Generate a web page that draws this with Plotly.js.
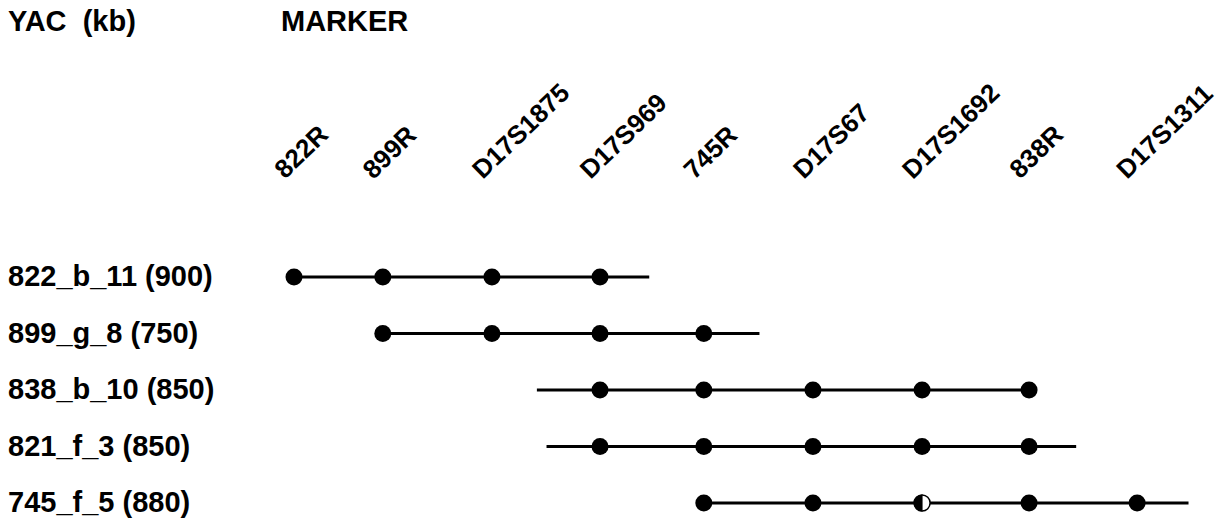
<!DOCTYPE html>
<html>
<head>
<meta charset="utf-8">
<script src="https://cdn.plot.ly/plotly-3.0.1.min.js"></script>
<style>html,body{margin:0;padding:0;background:#fff;}#chart{width:1225px;height:525px;}</style>
</head>
<body>
<div id="chart"></div>
<script>
// ---- data ----
const yacs = ['822_b_11 (900)', '899_g_8 (750)', '838_b_10 (850)', '821_f_3 (850)', '745_f_5 (880)'];
const markers = ['822R', '899R', 'D17S1875', 'D17S969', '745R', 'D17S67', 'D17S1692', '838R', 'D17S1311'];
// relative map position of each marker (marker spacing units)
const markerPos = [0, 0.83, 1.85, 2.86, 3.83, 4.85, 5.87, 6.87, 7.88];
// extent of each YAC on the same scale
const yacStart = [0, 0.83, 2.27, 2.36, 3.83];
const yacEnd = [3.32, 4.35, 6.87, 7.31, 8.36];
// marker content per YAC: 1 = present, 0.5 = partial (half-filled), 0 = absent
const content = [
  [1, 1, 1, 1, 0, 0, 0, 0, 0],
  [0, 1, 1, 1, 1, 0, 0, 0, 0],
  [0, 0, 0, 1, 1, 1, 1, 1, 0],
  [0, 0, 0, 1, 1, 1, 1, 1, 0],
  [0, 0, 0, 0, 1, 1, 0.5, 1, 1]
];
const titleLeft = 'YAC\u00a0\u00a0(kb)';
const titleRight = 'MARKER';

// ---- build ----
const FONT = 'Liberation Sans, Arial, Helvetica, sans-serif';
const traces = [];
yacs.forEach((y, i) => {
  traces.push({
    x: [yacStart[i], yacEnd[i]], y: [i, i], mode: 'lines',
    line: {color: '#000', width: 3}, hoverinfo: 'skip', showlegend: false
  });
});
const shapes = [];
yacs.forEach((y, i) => {
  const fx = [], hx = [];
  content[i].forEach((v, j) => {
    if (v === 1) fx.push(markerPos[j]);
    else if (v === 0.5) hx.push(markerPos[j]);
  });
  traces.push({
    x: fx, y: fx.map(() => i), mode: 'markers',
    marker: {symbol: 'circle', size: 17, color: '#000'},
    name: y, showlegend: false, hoverinfo: 'x+y'
  });
  if (hx.length) {
    traces.push({
      x: hx, y: hx.map(() => i), mode: 'markers',
      marker: {symbol: 'circle', size: 16, color: '#fff', line: {color: '#000', width: 1.5}},
      showlegend: false, hoverinfo: 'skip'
    });
    hx.forEach(px => {
      shapes.push({
        type: 'path', xref: 'x', yref: 'y', layer: 'above',
        xsizemode: 'pixel', ysizemode: 'pixel', xanchor: px, yanchor: i,
        path: 'M 0.5 8.5 C -4.2 8.5 -8.5 4.7 -8.5 0 C -8.5 -4.7 -4.2 -8.5 0.5 -8.5 Z',
        fillcolor: '#000', line: {width: 0}
      });
    });
  }
});

const annotations = [];
const titleFont = {family: FONT, size: 29, color: '#000', weight: 'bold'};
annotations.push({text: titleLeft, xref: 'paper', yref: 'paper', x: 6 / 1225, y: 1 - 3 / 525,
  xanchor: 'left', yanchor: 'top', showarrow: false, font: titleFont});
annotations.push({text: titleRight, xref: 'paper', yref: 'paper', x: 279 / 1225, y: 1 - 3 / 525,
  xanchor: 'left', yanchor: 'top', showarrow: false, font: titleFont});
yacs.forEach((y, i) => {
  annotations.push({text: y, xref: 'paper', yref: 'y', x: 6 / 1225, y: i,
    xanchor: 'left', yanchor: 'middle', showarrow: false, yshift: 1, font: titleFont});
});
markers.forEach((m, j) => {
  annotations.push({text: m, xref: 'x', yref: 'paper', x: markerPos[j], y: 1 - 187 / 525,
    xanchor: 'left', yanchor: 'bottom', xshift: -29, textangle: -44, showarrow: false,
    font: {family: FONT, size: 26, color: '#000', weight: 'bold'}});
});

const layout = {
  width: 1225, height: 525,
  margin: {l: 0, r: 0, t: 0, b: 0, pad: 0},
  paper_bgcolor: '#fff', plot_bgcolor: '#fff',
  xaxis: {range: [-294 / 107, (1225 - 294) / 107], visible: false, showgrid: false, zeroline: false, fixedrange: true},
  yaxis: {range: [(525 - 277) / 56.5, -277 / 56.5], visible: false, showgrid: false, zeroline: false, fixedrange: true},
  annotations: annotations, shapes: shapes, showlegend: false
};
Plotly.newPlot('chart', traces, layout, {displayModeBar: false, staticPlot: true});
</script>
</body>
</html>
